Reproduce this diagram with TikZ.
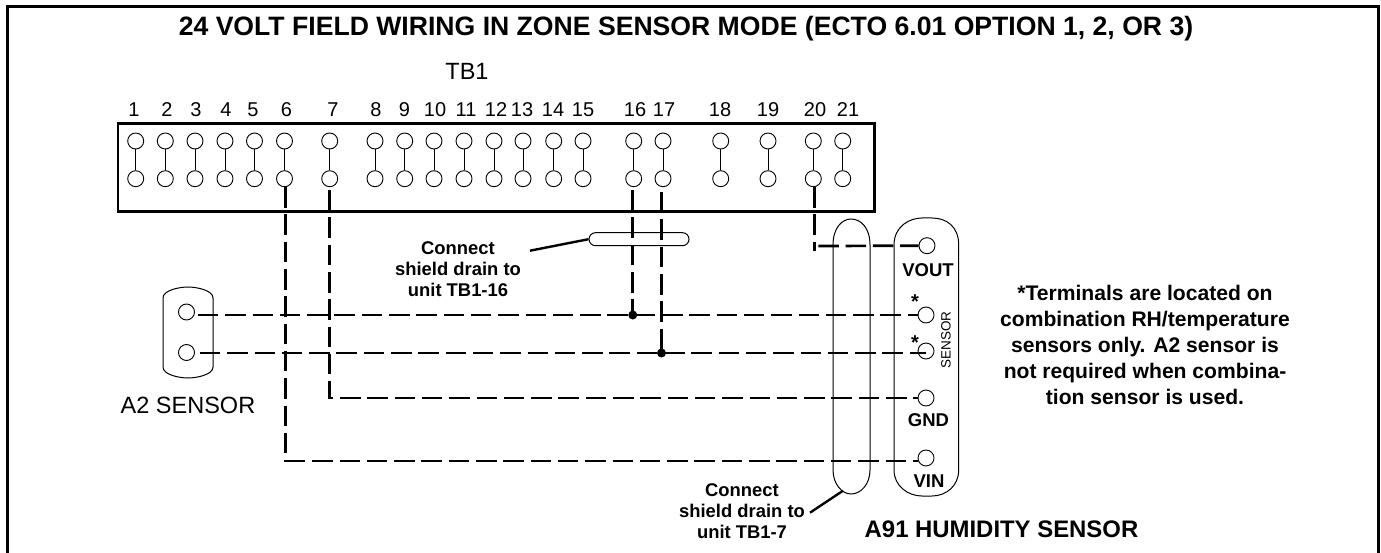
\documentclass[tikz,border=0pt]{standalone}
\usepackage{fontspec}
\setmainfont{Liberation Sans}
\tikzset{
  term/.style={circle,draw,line width=0.9pt,minimum size=16pt,inner sep=0pt},
  link/.style={line width=0.9pt},
  wire/.style={line width=2.7pt,dash pattern=on 20.5pt off 6.8pt},
  dotw/.style={circle,fill=black,minimum size=9pt,inner sep=0pt},
  num/.style={font=\fontsize{20}{20}\selectfont,inner sep=0pt},
  lab/.style={font=\fontsize{23.5}{24}\selectfont,inner sep=0pt},
  bl/.style={font=\fontsize{18.4}{20.7}\bfseries\selectfont,align=center,inner sep=0pt},
  bm/.style={font=\fontsize{21.1}{26}\bfseries\selectfont,align=center,inner sep=0pt},
  pin/.style={font=\fontsize{18.5}{20}\bfseries\selectfont,inner sep=0pt},
  shld/.style={line width=1pt},
  leader/.style={line width=2.4pt},
}
\begin{document}
\begin{tikzpicture}[x=1pt,y=-1pt]
\useasboundingbox (0,0) rectangle (1381,553);
\fill[white] (0,0) rectangle (1381,553);
\coordinate (fa) at (7.5,553); \coordinate (fb) at (7.5,7); \coordinate (fc) at (1378,7); \coordinate (fd) at (1378,553);
\draw[line width=3pt] (fa) -- (fb) -- (fc) -- (fd);
\node[font=\fontsize{26.6}{28}\bfseries\selectfont,inner sep=0pt] (title) at (686,29) {24 VOLT FIELD WIRING IN ZONE SENSOR MODE (ECTO 6.01 OPTION 1, 2, OR 3)};
\node[lab] (tb) at (467,71) {TB1};
\node[draw,line width=2.6pt,minimum width=756.5pt,minimum height=88.5pt,inner sep=0pt,anchor=north west] (tbbox) at (116.5,122) {};
% terminals
\foreach \n/\x/\lx in {1/135.7/134,2/165.3/167,3/195/196,4/225/226,5/254.5/253,6/284.5/286.5,7/329.7/333,8/375/376,9/404.7/404.5,10/434/435,11/464/466,12/494/496,13/523/522,14/553.7/553,15/583/583,16/633.7/635,17/663/664,18/720.7/720,19/768/768,20/813.3/815,21/842.7/848}{
  \node[num] (l\n) at (\lx,110) {\n};
  \node[term] (t\n) at (\x,141) {};
  \node[term] (b\n) at (\x,178.7) {};
  \draw[link] (t\n) -- (b\n);
}
% A2 sensor
\draw[shld] (163,298) .. controls (163,290) and (180,287) .. (188,287) .. controls (196,287) and (213,290) .. (213,298) -- (213,367) .. controls (213,375) and (196,378) .. (188,378) .. controls (180,378) and (163,375) .. (163,367) -- cycle;
\node[term] (a1) at (186.5,312) {};
\node[term] (a2) at (186.5,352.5) {};
\node[lab] (a2l) at (188,405) {A2 SENSOR};
% Humidity sensor body
\draw[shld] (894,245) .. controls (894,226) and (910,218) .. (922,218) -- (932,218) .. controls (946,218) and (958.7,226) .. (958.7,245) -- (958.7,470) .. controls (958.7,486) and (946,496) .. (932,496) -- (922,496) .. controls (908,496) and (894,486) .. (894,470) -- cycle;
\node[term] (vout) at (927,245.7) {};
\node[term] (s1) at (926,315) {};
\node[term] (s2) at (926,351) {};
\node[term] (gnd) at (926,398) {};
\node[term] (vin) at (926,458) {};
\node[pin] (voutl) at (928,270) {VOUT};
\node[pin] (gndl) at (928.5,420) {GND};
\node[pin] (vinl) at (929,481) {VIN};
\node[pin,font=\fontsize{20}{20}\bfseries\selectfont] (st1) at (915,302) {*};
\node[pin,font=\fontsize{20}{20}\bfseries\selectfont] (st2) at (915,343) {*};
\node[inner sep=0pt,font=\fontsize{13.5}{13}\selectfont,rotate=90] (sn) at (946,340) {SENSOR};
% Shields
\draw[shld] (833,245) .. controls (833,228) and (842,219) .. (851,219) .. controls (861,219) and (870,228) .. (870,245) -- (870,470) .. controls (870,484) and (861,494) .. (851,494) .. controls (842,494) and (833,484) .. (833,470) -- cycle;
\node[draw,line width=1pt,rounded corners=6.5pt,minimum width=100pt,minimum height=13pt,inner sep=0pt] (sh16) at (639,239.2) {};
% Wires
\coordinate (j16) at (632.8,315);
\coordinate (j17) at (661.5,353);
\coordinate (c6) at (285.8,461);
\coordinate (c7) at (329.5,398);
\coordinate (c20) at (814.3,246);
\draw[wire] (a1.east) ++(3,3) -- (s1.west |- j16);
\draw[wire] (a2.east) ++(5,0.5) -- (s2.center |- j17);
\draw[wire] (c6 |- b6.south) -- (c6) -- (vin.west |- c6);
\draw[wire] (c7 |- b7.south) ++(0,3) -- (c7) -- (gnd.west);
\draw[wire] (j16 |- b16.south) ++(0,3) -- (j16);
\draw[wire] (j17 |- b17.south) ++(0,5) -- (j17);
\draw[wire] (c20 |- b20.south) -- ++(0,64);
\draw[wire] (c20) ++(4,0) -- (vout.west);
\node[dotw] (dj16) at (j16) {};
\node[dotw] (dj17) at (j17) {};
% Leaders and notes
\node[bl] (n1) at (458,269) {Connect\\shield drain to\\unit TB1-16};
\node[bl] (n2) at (742,511) {Connect\\shield drain to\\unit TB1-7};
\coordinate (ld1) at (530,250.7);
\coordinate (ld2) at (810,512.7);
\coordinate (ld3) at (843,490.7);
\draw[leader] (ld1) -- (sh16.west);
\draw[leader] (ld2) -- (ld3);
\node[font=\fontsize{23.9}{24}\bfseries\selectfont,inner sep=0pt] (a91) at (1001.5,529) {A91 HUMIDITY SENSOR};
\node[bm] (note) at (1145,345) {*Terminals are located on\\combination RH/temperature\\sensors only. A2 sensor is\\not required when combina-\\tion sensor is used.};
\end{tikzpicture}
\end{document}
